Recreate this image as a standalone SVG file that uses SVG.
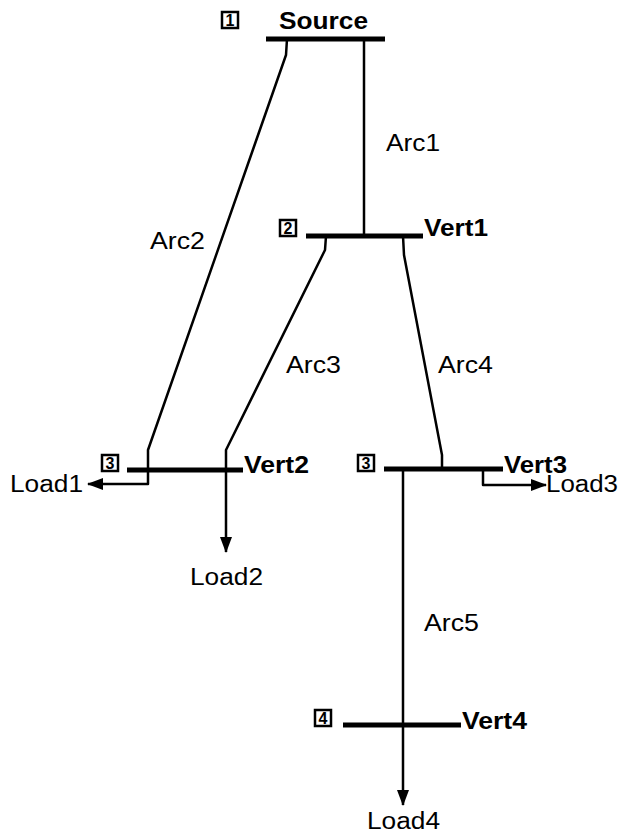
<svg xmlns="http://www.w3.org/2000/svg" width="620" height="835" viewBox="0 0 620 835">
<style>
.bus{stroke:#000;stroke-width:5;fill:none}
.ln{stroke:#000;stroke-width:2.5;fill:none;stroke-linejoin:round}
.lb{font-family:"Liberation Sans",Arial,sans-serif;font-size:23px;fill:#000}
.bd{font-family:"Liberation Sans",Arial,sans-serif;font-size:24px;font-weight:bold;fill:#000}
.bx{fill:#fff;stroke:#000;stroke-width:2.5}
.bn{font-family:"Liberation Sans",Arial,sans-serif;font-size:16px;font-weight:bold;fill:#000;text-anchor:middle}
</style>
<defs>
<marker id="ah" markerWidth="16" markerHeight="12" refX="15" refY="6" orient="auto" markerUnits="userSpaceOnUse">
<path d="M0,0 L16,6 L0,12 Z" fill="#000"/>
</marker>
</defs>
<rect width="620" height="835" fill="#fff"/>
<g id="connectors">
<path class="ln" d="M364,39 V236"/>
<path class="ln" d="M287,39 L286,55 L148,450 V484 H88" marker-end="url(#ah)"/>
<path class="ln" d="M326,236 L325,250 L226,450 V552" marker-end="url(#ah)"/>
<path class="ln" d="M403,236 L404,255 L442,455 V469"/>
<path class="ln" d="M483,469 V485 H546" marker-end="url(#ah)"/>
<path class="ln" d="M403,469 V805" marker-end="url(#ah)"/>
<text class="lb" x="386" y="151" textLength="54" lengthAdjust="spacingAndGlyphs">Arc1</text>
<text class="lb" x="150" y="249" textLength="55" lengthAdjust="spacingAndGlyphs">Arc2</text>
<text class="lb" x="286" y="373" textLength="55" lengthAdjust="spacingAndGlyphs">Arc3</text>
<text class="lb" x="438" y="373" textLength="55" lengthAdjust="spacingAndGlyphs">Arc4</text>
<text class="lb" x="424" y="631" textLength="55" lengthAdjust="spacingAndGlyphs">Arc5</text>
<text class="lb" x="10" y="492" textLength="73" lengthAdjust="spacingAndGlyphs">Load1</text>
<text class="lb" x="190" y="585" textLength="73" lengthAdjust="spacingAndGlyphs">Load2</text>
<text class="lb" x="546" y="492" textLength="72" lengthAdjust="spacingAndGlyphs">Load3</text>
<text class="lb" x="367" y="829" textLength="73" lengthAdjust="spacingAndGlyphs">Load4</text>
</g>
<g id="source">
<line class="bus" x1="266" y1="39" x2="385" y2="39"/>
<text class="bd" x="279" y="29" textLength="89" lengthAdjust="spacingAndGlyphs">Source</text>
<rect class="bx" x="222" y="12" width="16" height="16"/>
<text class="bn" x="230" y="26">1</text>
</g>
<g id="vert1">
<line class="bus" x1="306" y1="236" x2="423" y2="236"/>
<text class="bd" x="424" y="236" textLength="64" lengthAdjust="spacingAndGlyphs">Vert1</text>
<rect class="bx" x="280" y="220" width="16" height="16"/>
<text class="bn" x="288" y="234">2</text>
</g>
<g id="vert2">
<line class="bus" x1="127" y1="470" x2="243" y2="470"/>
<text class="bd" x="244" y="473" textLength="65" lengthAdjust="spacingAndGlyphs">Vert2</text>
<rect class="bx" x="102" y="455" width="16" height="16"/>
<text class="bn" x="110" y="469">3</text>
</g>
<g id="vert3">
<line class="bus" x1="384" y1="469" x2="503" y2="469"/>
<text class="bd" x="504" y="473" textLength="63" lengthAdjust="spacingAndGlyphs">Vert3</text>
<rect class="bx" x="358" y="455" width="16" height="16"/>
<text class="bn" x="366" y="469">3</text>
</g>
<g id="vert4">
<line class="bus" x1="343" y1="725" x2="461" y2="725"/>
<text class="bd" x="462" y="729" textLength="65" lengthAdjust="spacingAndGlyphs">Vert4</text>
<rect class="bx" x="315" y="710" width="16" height="16"/>
<text class="bn" x="323" y="724">4</text>
</g>
</svg>
